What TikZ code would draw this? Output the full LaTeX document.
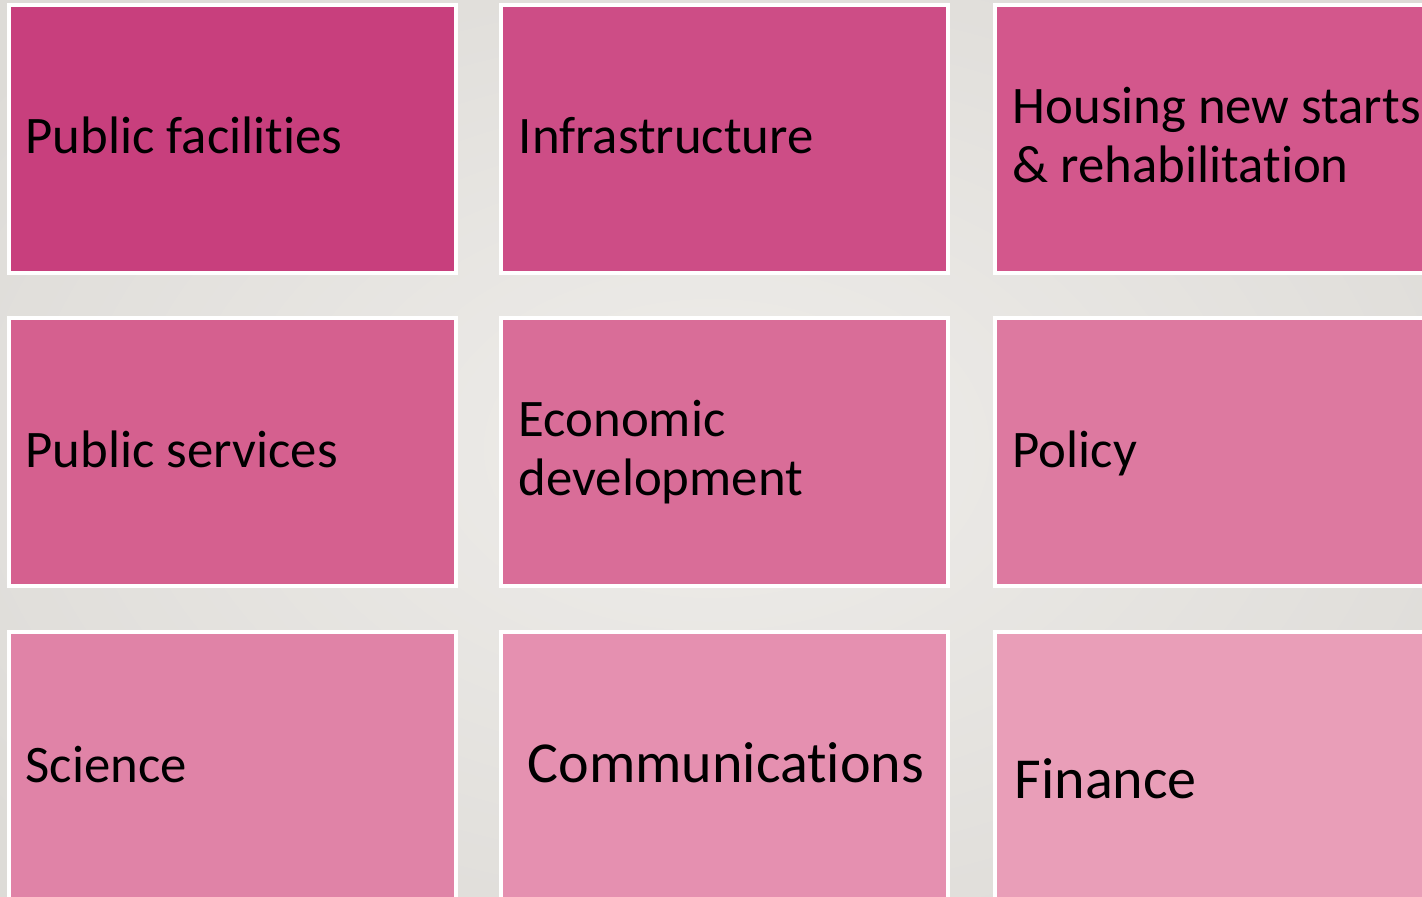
\documentclass[tikz,border=0pt]{standalone}
\usepackage{fontspec}
\setmainfont{Carlito}[Ligatures=NoCommon]
\usetikzlibrary{positioning}
\definecolor{BG_In}{RGB}{239,237,234}
\definecolor{BG_Out}{RGB}{221,219,215}
\definecolor{Tile_A}{RGB}{200,63,125}
\definecolor{Tile_B}{RGB}{205,77,134}
\definecolor{Tile_C}{RGB}{211,87,140}
\definecolor{Tile_D}{RGB}{213,96,143}
\definecolor{Tile_E}{RGB}{217,109,152}
\definecolor{Tile_F}{RGB}{221,121,160}
\definecolor{Tile_G}{RGB}{224,131,167}
\definecolor{Tile_H}{RGB}{229,144,176}
\definecolor{Tile_I}{RGB}{233,158,184}
\tikzset{
    tile/.style={rectangle, draw=white, line width=0.04cm, inner sep=0, outer sep=0,
                 minimum width=4.47cm, minimum height=2.68cm, anchor=north west},
    wide tile/.style={tile, minimum width=4.6cm},
    tile text/.style={inner sep=0, anchor=base west, align=left, text=black,
                 font=\fontsize{15pt}{16.6pt}\selectfont},
    big text/.style={tile text, font=\fontsize{16.5pt}{18pt}\selectfont},
    }
\begin{document}
\begin{tikzpicture}[x=0.01cm, y=-0.01cm]
\useasboundingbox (0,0) rectangle (1422,896);
\clip (0,0) rectangle (1422,896);
\shade[inner color=BG_In, outer color=BG_Out] (-200,-150) rectangle (1622,1046);

% first row
\node[tile, fill=Tile_A] (t11) at (9,5) {};
\node[tile, fill=Tile_B] (t12) at (501,5) {};
\node[wide tile, fill=Tile_C] (t13) at (995,5) {};
% second row
\node[tile, fill=Tile_D] (t21) at (9,318) {};
\node[tile, fill=Tile_E] (t22) at (501,318) {};
\node[wide tile, fill=Tile_F] (t23) at (995,318) {};
% third row
\node[tile, fill=Tile_G] (t31) at (9,632) {};
\node[tile, fill=Tile_H] (t32) at (501,632) {};
\node[wide tile, fill=Tile_I] (t33) at (995,632) {};

% labels (base of the last line)
\node[tile text] (l11) at (25,153) {Public facilities};
\node[tile text] (l12) at (518,153) {Infrastructure};
\node[tile text] (l13) at (1012,182) {Housing new starts\\\& rehabilitation};
\node[tile text] (l21) at (25,467) {Public services};
\node[tile text] (l22) at (518,495) {Economic\\development};
\node[tile text] (l23) at (1012,467) {Policy};
\node[tile text] (l31) at (25,782) {Science};
\node[big text] (l32) at (527,782) {Communications};
\node[big text] (l33) at (1014,798) {Finance};
\end{tikzpicture}
\end{document}
